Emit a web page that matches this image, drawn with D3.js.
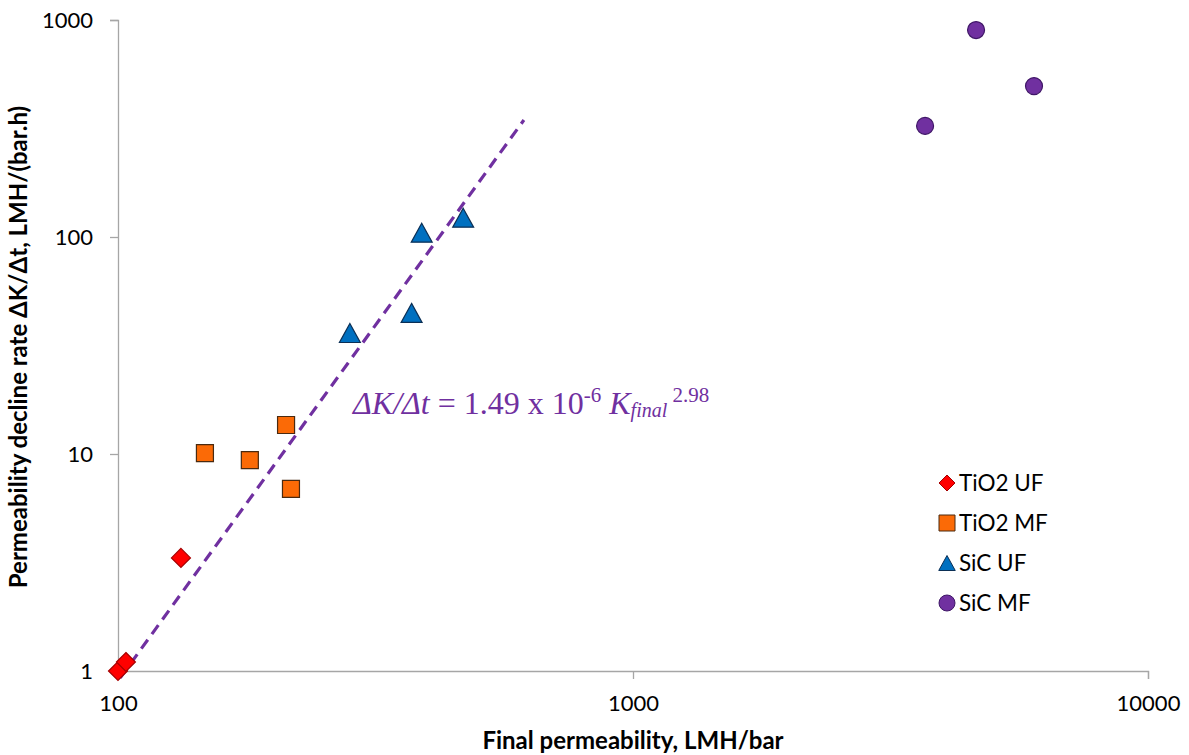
<!DOCTYPE html>
<html>
<head>
<meta charset="utf-8">
<script src="https://cdn.jsdelivr.net/npm/d3@7"></script>
<style>
  body { margin: 0; background: #fff; }
  svg { display: block; }
</style>
</head>
<body>
<svg id="chart" width="1189" height="755"></svg>
<script>
// data
const tio2UfX = [100, 103.6, 132.5];
const tio2UfY = [1.0, 1.10, 3.32];
const tio2MfX = [147.5, 180.3, 212, 216.7];
const tio2MfY = [10.1, 9.38, 13.6, 6.9];
const sicUfX = [282, 371.6, 388.8, 468];
const sicUfY = [36.1, 44.7, 104.7, 122.7];
const sicMfX = [3691, 4636, 6007];
const sicMfY = [325, 899, 496];
const trendX = [101, 614];
const trendY = [0.93, 346];
const xTicks = [100, 1000, 10000];
const yTicks = [1, 10, 100, 1000];
const seriesNames = ["TiO2 UF", "TiO2 MF", "SiC UF", "SiC MF"];

const svg = d3.select("#chart");
const margin = { left: 118, right: 41, top: 20, bottom: 84 };
const width = 1189, height = 755;

const x = d3.scaleLog().domain([100, 10000]).range([margin.left, width - margin.right]);
const y = d3.scaleLog().domain([1, 1000]).range([height - margin.bottom, margin.top]);

const axisColor = "#a6a6a6";
const font = "Lato, 'Open Sans', sans-serif";

// axes
const xAxis = svg.append("g")
  .attr("transform", `translate(0,${y(1)})`)
  .call(d3.axisBottom(x).tickValues(xTicks).tickFormat(d3.format("d")).tickSize(8).tickPadding(16));
const yAxis = svg.append("g")
  .attr("transform", `translate(${x(100)},0)`)
  .call(d3.axisLeft(y).tickValues(yTicks).tickFormat(d3.format("d")).tickSize(8).tickPadding(17));

[xAxis, yAxis].forEach(ax => {
  ax.select(".domain").attr("stroke", axisColor).attr("stroke-width", 1.3);
  ax.selectAll(".tick line").attr("stroke", axisColor).attr("stroke-width", 1.3);
  ax.selectAll(".tick text")
    .attr("fill", "#000")
    .style("font-family", font)
    .style("font-size", "22px");
});
yAxis.selectAll(".tick text").attr("dy", "0.35em");

// axis titles
svg.append("text")
  .attr("x", 633)
  .attr("y", 749)
  .attr("text-anchor", "middle")
  .style("font-family", font)
  .style("font-weight", "bold")
  .style("font-size", "24px")
  .text("Final permeability, LMH/bar");

svg.append("text")
  .attr("transform", `translate(27,${347}) rotate(-90)`)
  .attr("text-anchor", "middle")
  .style("font-family", font)
  .style("font-weight", "bold")
  .style("font-size", "24px")
  .text("Permeability decline rate \u0394K/\u0394t, LMH/(bar.h)");

// trend line
const trendData = trendX.map((d, i) => [d, trendY[i]]);
svg.append("path")
  .attr("d", d3.line().x(d => x(d[0])).y(d => y(d[1]))(trendData))
  .attr("fill", "none")
  .attr("stroke", "#7030a0")
  .attr("stroke-width", 3.2)
  .attr("stroke-dasharray", "11,7");

// marker shapes
const shapes = {
  diamond: s => `M0,${-s}L${s},0L0,${s}L${-s},0Z`,
  square: s => `M${-s},${-s}H${s}V${s}H${-s}Z`,
  triangle: s => `M0,${-s}L${s * 1.1},${s}H${-s * 1.1}Z`,
  circle: s => `M${s},0A${s},${s} 0 1,1 ${-s},0A${s},${s} 0 1,1 ${s},0Z`
};

const series = [
  { xs: tio2UfX, ys: tio2UfY, shape: "diamond", size: 9.5, fill: "#ff0000", stroke: "#a50000" },
  { xs: tio2MfX, ys: tio2MfY, shape: "square", size: 8.5, fill: "#fb6a06", stroke: "#4a2a10" },
  { xs: sicUfX, ys: sicUfY, shape: "triangle", size: 9.5, fill: "#0070c0", stroke: "#0b2f55" },
  { xs: sicMfX, ys: sicMfY, shape: "circle", size: 8.5, fill: "#7030a0", stroke: "#3f1766" }
];

series.forEach(s => {
  svg.append("g").selectAll("path")
    .data(s.xs.map((d, i) => [d, s.ys[i]]))
    .join("path")
    .attr("transform", d => `translate(${x(d[0])},${y(d[1])})`)
    .attr("d", shapes[s.shape](s.size))
    .attr("fill", s.fill)
    .attr("stroke", s.stroke)
    .attr("stroke-width", 1.2);
});

// legend
const legend = svg.append("g").attr("transform", "translate(947,483)");
seriesNames.forEach((name, i) => {
  const s = series[i];
  const row = legend.append("g").attr("transform", `translate(0,${i * 40})`);
  row.append("path")
    .attr("d", shapes[s.shape](s.shape === "triangle" ? 7.5 : 8))
    .attr("fill", s.fill)
    .attr("stroke", s.stroke)
    .attr("stroke-width", 1);
  row.append("text")
    .attr("x", 12)
    .attr("dy", "0.36em")
    .style("font-family", font)
    .style("font-size", "22.5px")
    .text(name);
});

// equation
const eq = svg.append("text")
  .attr("x", 353)
  .attr("y", 414)
  .attr("fill", "#7030a0")
  .style("font-family", "'Liberation Serif', 'DejaVu Serif', serif")
  .style("font-size", "32px");
eq.append("tspan").style("font-style", "italic").text("\u0394K/\u0394t");
eq.append("tspan").text(" = 1.49 x 10");
eq.append("tspan").attr("dy", -12).style("font-size", "21px").text("-6");
eq.append("tspan").attr("dy", 12).text(" ");
eq.append("tspan").style("font-style", "italic").text("K");
eq.append("tspan").attr("dy", 3).style("font-style", "italic").style("font-size", "20px").text("final");
eq.append("tspan").attr("dy", -15).style("font-size", "21px").text(" 2.98");
</script>
</body>
</html>
